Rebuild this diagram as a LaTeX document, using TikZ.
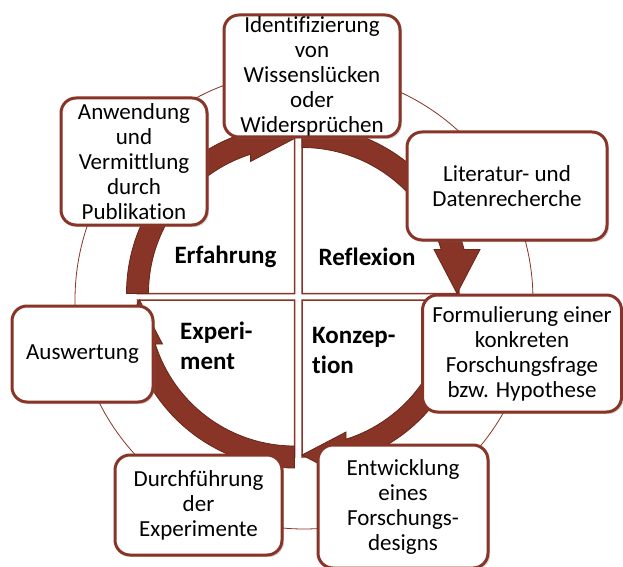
\documentclass[tikz,border=0pt]{standalone}
\usepackage{fontspec}
\setmainfont{Carlito}[Ligatures=NoCommon]
\usetikzlibrary{shadows}
\definecolor{brn}{RGB}{136,52,38}
\definecolor{brnd}{RGB}{105,38,26}
\newcommand\cycarrow[3]{%
  \begin{scope}[shift={(#1,#2)},rotate=#3]
    \draw[arr] (90:168) arc[start angle=90,end angle=15.19,radius=168]
      -- (178,44) -- (155,0) -- (132,44) -- (139.2,44)
      arc[start angle=17.54,end angle=90,radius=146] -- cycle;
  \end{scope}}
\begin{document}
\begin{tikzpicture}[x=1pt,y=1pt,
  box/.style={draw=brn, line width=3pt, fill=white, rounded corners=15pt,
    align=center, inner sep=0pt, outer sep=0pt,
    font=\fontsize{23}{25}\selectfont,
    drop shadow={shadow xshift=2pt, shadow yshift=-2pt, opacity=0.3}},
  lbl/.style={font=\bfseries\fontsize{25}{30}\selectfont, inner sep=0pt},
  quad/.style={draw=brn, line width=1.5pt, fill=white},
  arr/.style={fill=brn, draw=brnd, line width=0.8pt},
  ring/.style={draw=brn, line width=0.8pt}]
\useasboundingbox (0,0) rectangle (623,566);
\fill[white] (0,0) rectangle (623,566);
% outer thin circle
\draw[ring] (304,266) circle[radius=229];
% quadrants
\draw[quad] (294.5,272.5) -- ++(-157,0) arc[start angle=180,end angle=90,radius=157] -- cycle;
\draw[quad] (302,272.5) -- ++(0,157) arc[start angle=90,end angle=0,radius=157] -- cycle;
\draw[quad] (302,266) -- ++(157,0) arc[start angle=0,end angle=-90,radius=157] -- cycle;
\draw[quad] (294.5,266) -- ++(0,-157) arc[start angle=270,end angle=180,radius=157] -- cycle;
% circular arrows
\cycarrow{294.5}{272.5}{90}
\cycarrow{302}{272.5}{0}
\cycarrow{302}{266}{-90}
\cycarrow{294.5}{266}{180}
% quadrant labels
\node[lbl, anchor=base] (erf) at (225.5,303) {Erfahrung};
\node[lbl, anchor=base] (refl) at (367,301) {Reflexion};
\node[lbl, anchor=base west] (expm) at (180,227) {\begin{tabular}[t]{@{}l@{}}Experi-\\ment\end{tabular}};
\node[lbl, anchor=base west] (konz) at (312,223) {\begin{tabular}[t]{@{}l@{}}Konzep-\\tion\end{tabular}};
% boxes
\node[box, minimum width=176pt, minimum height=122pt] (ident) at (312,490)
  {Identifizierung\\von\\Wissenslücken\\oder\\Widersprüchen};
\node[box, minimum width=200pt, minimum height=108pt] (lit) at (507,380)
  {Literatur- und\\Datenrecherche};
\node[box, minimum width=199pt, minimum height=117pt] (form) at (522,212.5)
  {Formulierung einer\\konkreten\\Forschungsfrage\\bzw. Hypothese};
\node[box, minimum width=170pt, minimum height=123pt] (entw) at (403,59.5)
  {Entwicklung\\eines\\Forschungs-\\designs};
\node[box, minimum width=167pt, minimum height=100pt] (durch) at (198.5,61)
  {Durchführung\\der\\Experimente};
\node[box, minimum width=141pt, minimum height=96pt] (ausw) at (82.5,212)
  {Auswertung};
\node[box, minimum width=146pt, minimum height=127pt] (anw) at (134,404.5)
  {Anwendung\\und\\Vermittlung\\durch\\Publikation};
\end{tikzpicture}
\end{document}
